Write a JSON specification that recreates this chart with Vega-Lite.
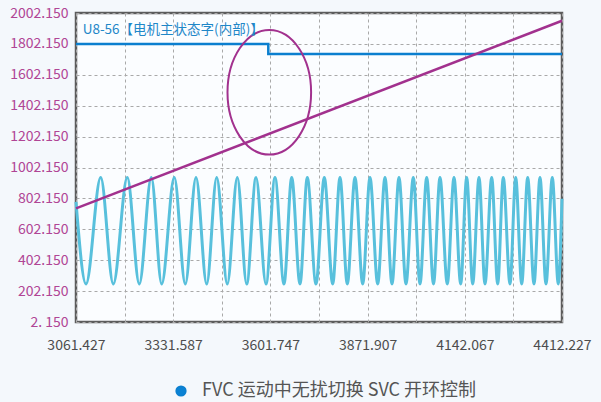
{
  "$schema": "https://vega.github.io/schema/vega-lite/v6.json",
  "width": 486,
  "height": 309,
  "autosize": {"type": "none"},
  "padding": {"left": 76, "top": 13, "right": 39, "bottom": 80},
  "background": "#f4f8fc",
  "config": {
    "font": "Noto Sans CJK SC",
    "view": {"stroke": "#5c5c5c", "strokeWidth": 2.5, "fill": "#fbfdff"}
  },
  "datasets": {
    "wave": [
      {"x": 3061.43, "y": 780}, {"x": 3089.22, "y": 248}, {"x": 3130.08, "y": 937}, {"x": 3165.10, "y": 248},
      {"x": 3204.01, "y": 937}, {"x": 3237.37, "y": 248}, {"x": 3270.72, "y": 937}, {"x": 3299.62, "y": 248},
      {"x": 3334.64, "y": 937}, {"x": 3365.22, "y": 248}, {"x": 3394.96, "y": 937}, {"x": 3424.70, "y": 248},
      {"x": 3452.49, "y": 937}, {"x": 3481.95, "y": 248}, {"x": 3509.75, "y": 937}, {"x": 3535.87, "y": 248},
      {"x": 3561.72, "y": 937}, {"x": 3589.52, "y": 248}, {"x": 3614.53, "y": 937}, {"x": 3639.55, "y": 248},
      {"x": 3660.95, "y": 937}, {"x": 3684.02, "y": 248}, {"x": 3704.31, "y": 937}, {"x": 3728.49, "y": 248},
      {"x": 3751.56, "y": 937}, {"x": 3774.90, "y": 248}, {"x": 3795.19, "y": 937}, {"x": 3815.48, "y": 248},
      {"x": 3836.88, "y": 937}, {"x": 3858.28, "y": 248}, {"x": 3878.57, "y": 937}, {"x": 3899.97, "y": 248},
      {"x": 3920.26, "y": 937}, {"x": 3939.72, "y": 248}, {"x": 3959.18, "y": 937}, {"x": 3978.63, "y": 248},
      {"x": 3998.92, "y": 937}, {"x": 4017.54, "y": 248}, {"x": 4036.17, "y": 937}, {"x": 4055.07, "y": 248},
      {"x": 4073.13, "y": 937}, {"x": 4093.42, "y": 248}, {"x": 4112.04, "y": 937}, {"x": 4130.67, "y": 248},
      {"x": 4147.34, "y": 937}, {"x": 4164.02, "y": 248}, {"x": 4181.53, "y": 937}, {"x": 4198.20, "y": 248},
      {"x": 4216.83, "y": 937}, {"x": 4233.50, "y": 248}, {"x": 4249.07, "y": 937}, {"x": 4267.69, "y": 248},
      {"x": 4283.53, "y": 937}, {"x": 4300.21, "y": 248}, {"x": 4316.88, "y": 937}, {"x": 4334.40, "y": 248},
      {"x": 4351.07, "y": 937}, {"x": 4367.75, "y": 248}, {"x": 4385.26, "y": 937}, {"x": 4401.93, "y": 248},
      {"x": 4412.22, "y": 800}
    ],
    "step": [
      {"x": 3061.427, "y": 1802.15},
      {"x": 3595.9, "y": 1736},
      {"x": 4412.227, "y": 1736}
    ],
    "ramp": [
      {"x": 3061.427, "y": 738},
      {"x": 4412.227, "y": 1952}
    ],
    "ellipse": [
      {"x": 3598.7, "y": 1489}
    ],
    "note": [
      {"x": 3080, "y": 1892, "label": "U8-56【电机主状态字(内部)】"}
    ]
  },
  "encoding": {
    "x": {
      "field": "x",
      "type": "quantitative",
      "scale": {"domain": [3061.427, 4412.227], "nice": false, "zero": false},
      "axis": {
        "title": null,
        "values": [3061.427, 3196.507, 3331.587, 3466.667, 3601.747, 3736.827, 3871.907, 4006.987, 4142.067, 4277.147, 4412.227],
        "grid": true,
        "gridColor": "#a9a9a9",
        "gridDash": [3, 3],
        "gridWidth": 1,
        "domain": false,
        "ticks": false,
        "labelExpr": "round(datum.index * 10) % 2 == 0 ? format(datum.value, '.3f') : ''",
        "labelFontSize": 14,
        "labelColor": "#4d4d4d",
        "labelPadding": 16,
        "labelOverlap": false,
        "labelBound": false,
        "labelFlush": false
      }
    },
    "y": {
      "field": "y",
      "type": "quantitative",
      "scale": {"domain": [2.15, 2002.15], "nice": false, "zero": false},
      "axis": {
        "title": null,
        "values": [2.15, 202.15, 402.15, 602.15, 802.15, 1002.15, 1202.15, 1402.15, 1602.15, 1802.15, 2002.15],
        "grid": true,
        "gridColor": "#a9a9a9",
        "gridDash": [3, 3],
        "gridWidth": 1,
        "domain": false,
        "ticks": false,
        "labelExpr": "datum.value < 100 ? '2. 150' : format(datum.value, '.3f')",
        "labelFontSize": 14,
        "labelColor": "#b04595",
        "labelPadding": 8,
        "labelOverlap": false,
        "labelBound": false,
        "labelFlush": false
      }
    }
  },
  "layer": [
    {
      "data": {"name": "wave"},
      "mark": {"type": "line", "interpolate": "monotone", "color": "#58c0dc", "strokeWidth": 3}
    },
    {
      "data": {"name": "step"},
      "mark": {"type": "line", "interpolate": "step-after", "strokeWidth": 2.5},
      "encoding": {
        "color": {
          "datum": "FVC 运动中无扰切换 SVC 开环控制",
          "type": "nominal",
          "scale": {"range": ["#0b7fcf"]},
          "legend": {
            "title": null,
            "orient": "none",
            "legendX": 96,
            "legendY": 369,
            "padding": 0,
            "symbolType": "circle",
            "symbolSize": 95,
            "labelFontSize": 18,
            "labelColor": "#555555",
            "labelOffset": 12,
            "labelLimit": 0,
            "encode": {
              "symbols": {"update": {"fill": {"value": "#0a82d4"}, "stroke": {"value": "transparent"}, "opacity": {"value": 1}}}
            }
          }
        }
      }
    },
    {
      "data": {"name": "ramp"},
      "mark": {"type": "line", "color": "#a2318e", "strokeWidth": 2.5}
    },
    {
      "data": {"name": "ellipse"},
      "mark": {
        "type": "point",
        "shape": "M0,-1C0.371,-1 0.671,-0.552 0.671,0C0.671,0.552 0.371,1 0,1C-0.371,1 -0.671,0.552 -0.671,0C-0.671,-0.552 -0.371,-1 0,-1Z",
        "size": 15525,
        "filled": false,
        "color": "#a2318e",
        "strokeWidth": 2,
        "opacity": 1
      }
    },
    {
      "data": {"name": "note"},
      "mark": {"type": "text", "align": "left", "baseline": "middle", "fontSize": 13.5, "color": "#1f87c8"},
      "encoding": {"text": {"field": "label"}}
    }
  ]
}
